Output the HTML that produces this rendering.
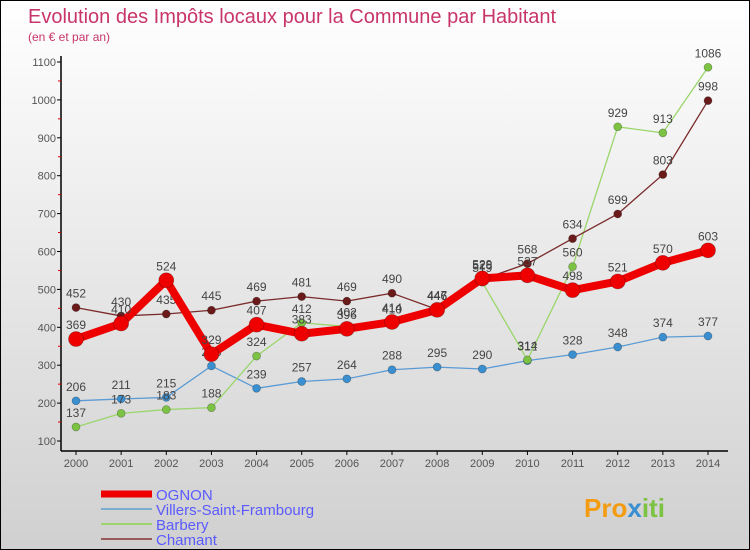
<!DOCTYPE html>
<html><head><meta charset="utf-8"><style>
body{margin:0;}
#wrap{width:750px;height:550px;position:relative;overflow:hidden;font-family:"Liberation Sans",sans-serif;background:linear-gradient(#ffffff,#d0d0d0);border:1px solid #000;box-sizing:border-box;}
svg{position:absolute;left:0;top:0;}
</style></head><body>
<div id="wrap">
<svg id="chart" width="750" height="550">
<text x="27" y="22" font-size="20" fill="#c8356a" font-weight="300">Evolution des Impôts locaux pour la Commune par Habitant</text>
<text x="27" y="40" font-size="12" fill="#c8356a">(en € et par an)</text>
<g id="axes"></g><g id="series"></g><g id="legend"></g>
<text x="583" y="516" font-size="26" font-weight="bold" fill="#f39c12">Pro<tspan fill="#3a8fd0">x</tspan><tspan fill="#7cc243">iti</tspan></text>
</svg>
</div>
<script>
const years=[2000,2001,2002,2003,2004,2005,2006,2007,2008,2009,2010,2011,2012,2013,2014];
const yTicks=[100,200,300,400,500,600,700,800,900,1000,1100];
const ognon=[369,410,524,329,407,383,396,414,446,529,537,498,521,570,603];
const villers=[206,211,215,298,239,257,264,288,295,290,312,328,348,374,377];
const barbery=[137,173,183,188,324,412,402,410,446,519,314,560,929,913,1086];
const chamant=[452,430,435,445,469,481,469,490,447,526,568,634,699,803,998];
const NS="http://www.w3.org/2000/svg";
function x(i){return 75+i*(707-75)/14;}
function y(v){return 440-(v-100)*(440-61)/1000;}
function mk(t,a,p){const e=document.createElementNS(NS,t);for(const k in a)e.setAttribute(k,a[k]);p.appendChild(e);return e;}
const ax=document.getElementById('axes');
let l=mk('line',{x1:60,y1:55,x2:60,y2:450,stroke:'#000','stroke-width':1.5},ax);


l=mk('line',{x1:60,y1:450,x2:727,y2:450,stroke:'#000','stroke-width':1.5},ax);


yTicks.forEach((v,i)=>{
 mk('line',{x1:56,y1:y(v),x2:60,y2:y(v),stroke:'#000'},ax);
 if(i<yTicks.length-1) mk('line',{x1:57,y1:y(v+50),x2:60,y2:y(v+50),stroke:'#d00'},ax);
 const t=mk('text',{x:55,y:y(v)+4,'font-size':11,'text-anchor':'end',fill:'#555'},ax);
 t.textContent=v;
 
 
});
years.forEach((yr,i)=>{
 mk('line',{x1:x(i),y1:450,x2:x(i),y2:454,stroke:'#000'},ax);
 const t=mk('text',{x:x(i),y:466,'font-size':11,'text-anchor':'middle',fill:'#555'},ax);
 t.textContent=yr;
 
 
});
const sg=document.getElementById('series');
function draw(data,name,color,w,r,dot){
 const g=mk('g',{},sg);
 
 
 const pl=mk('polyline',{points:data.map((v,i)=>x(i)+','+y(v)).join(' '),fill:'none',stroke:color,'stroke-width':w,'stroke-linejoin':'round'},g);
 
 
 data.forEach((v,i)=>{
  const c=mk('circle',{cx:x(i),cy:y(v),r:r,fill:dot,stroke:'rgba(0,0,0,0.3)','stroke-width':0.7},g);
  
  
  const t=mk('text',{x:x(i),y:y(v)-10,'font-size':12,'text-anchor':'middle',fill:'#444'},g);
  t.textContent=v;
  
  
 });
}
draw(villers,'villers','#5b9bd5',1.3,4,'#3a8fd0');
draw(barbery,'barbery','#9ad66b',1.3,4,'#7cc243');
draw(chamant,'chamant','#7a2a2a',1.3,4,'#6b1a1a');
draw(ognon,'ognon','#ee0000',8,7.5,'#ee0000');
const lg=document.getElementById('legend');
[['OGNON','#ee0000',7],['Villers-Saint-Frambourg','#7aaed0',2],['Barbery','#9ad66b',2],['Chamant','#9a5a5a',2]].forEach((s,i)=>{
 const yy=493+i*15;
 const ln=mk('line',{x1:100,y1:yy,x2:151,y2:yy,stroke:s[1],'stroke-width':s[2]},lg);
 
 
 const t=mk('text',{x:155,y:yy+6,'font-size':15,fill:'#5a5aff'},lg);
 t.textContent=s[0];
 
 
});
</script>
</body></html>
